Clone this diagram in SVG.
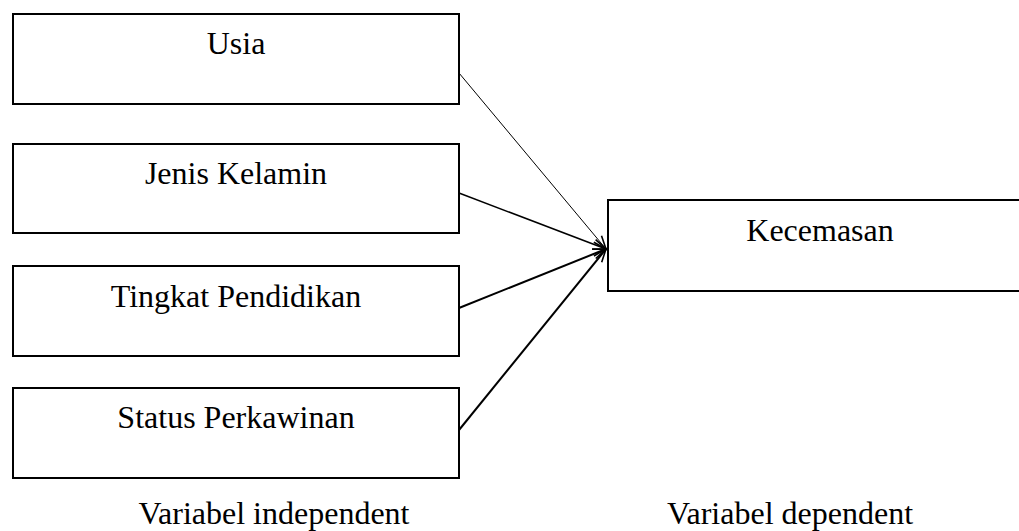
<svg xmlns="http://www.w3.org/2000/svg" width="1019" height="531" viewBox="0 0 1019 531">
<style>
.box{fill:#fff;stroke:#000;stroke-width:2}
.t{font-family:"Liberation Serif","Times New Roman",serif;font-size:32px;fill:#000;text-anchor:middle}
.c{stroke:#000;fill:none}
</style>
<defs>
<marker id="ah" markerUnits="userSpaceOnUse" viewBox="-14 -7 16 14" refX="0" refY="0" markerWidth="16" markerHeight="14" orient="auto" overflow="visible">
<path d="M-13,-5 L0,0 L-13,5" fill="none" stroke="#000" stroke-width="1.6"/>
</marker>
</defs>
<rect width="1019" height="531" fill="#fff"/>
<g id="usia"><rect class="box" x="13" y="14" width="446" height="90"/><text class="t" x="236" y="54">Usia</text></g>
<g id="jenis-kelamin"><rect class="box" x="13" y="144" width="446" height="89"/><text class="t" x="236" y="184">Jenis Kelamin</text></g>
<g id="tingkat-pendidikan"><rect class="box" x="13" y="266" width="446" height="90"/><text class="t" x="236" y="307">Tingkat Pendidikan</text></g>
<g id="status-perkawinan"><rect class="box" x="13" y="388" width="446" height="90"/><text class="t" x="236" y="428">Status Perkawinan</text></g>
<g id="kecemasan"><rect class="box" x="608" y="200" width="420" height="91"/><text class="t" x="820" y="241">Kecemasan</text></g>
<g id="connectors">
<line class="c" x1="459" y1="73" x2="606" y2="249" stroke-width="1" marker-end="url(#ah)"/>
<line class="c" x1="459" y1="193" x2="606" y2="249" stroke-width="1.5" marker-end="url(#ah)"/>
<line class="c" x1="459" y1="308" x2="606" y2="249" stroke-width="2" marker-end="url(#ah)"/>
<line class="c" x1="459" y1="430" x2="606" y2="249" stroke-width="2" marker-end="url(#ah)"/>
</g>
<g id="labels">
<text class="t" x="274" y="524">Variabel independent</text>
<text class="t" x="790" y="524">Variabel dependent</text>
</g>
</svg>
